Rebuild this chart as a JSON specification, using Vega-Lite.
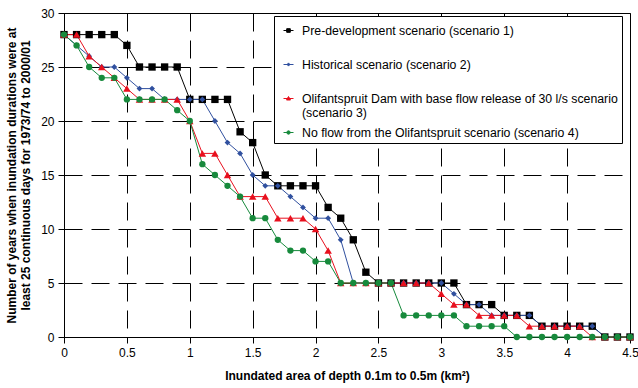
{
  "$schema": "https://vega.github.io/schema/vega-lite/v6.json",
  "width": 566,
  "height": 324,
  "autosize": {"type": "none"},
  "padding": {"left": 64, "top": 13, "right": 8, "bottom": 51},
  "background": "white",
  "config": {
    "font": "Liberation Sans",
    "view": {"stroke": "#000", "strokeWidth": 1},
    "axis": {
      "domainColor": "#000",
      "tickColor": "#000",
      "tickSize": 6,
      "labelColor": "#000",
      "labelFontSize": 12,
      "labelFont": "Liberation Sans",
      "titleFont": "Liberation Sans",
      "titleFontSize": 12,
      "titleFontWeight": "bold",
      "titleColor": "#000",
      "gridColor": "#000",
      "gridOpacity": 1,
      "gridDash": [18, 9],
      "gridWidth": 1
    },
    "legend": {
      "orient": "none",
      "legendX": 210,
      "legendY": 3,
      "strokeColor": "#000",
      "fillColor": "#fff",
      "padding": 4,
      "labelFont": "Liberation Sans",
      "labelFontSize": 12.3,
      "labelColor": "#000",
      "labelLimit": 400,
      "labelOffset": 3,
      "symbolSize": 400,
      "symbolStrokeWidth": 1,
      "symbolOpacity": 1,
      "gridAlign": "all",
      "rowPadding": 2
    }
  },
  "data": {"values": [
    {"s":"S1","x":0,"y":28},{"s":"S1","x":0.1,"y":28},{"s":"S1","x":0.2,"y":28},{"s":"S1","x":0.3,"y":28},{"s":"S1","x":0.4,"y":28},{"s":"S1","x":0.5,"y":27},{"s":"S1","x":0.6,"y":25},{"s":"S1","x":0.7,"y":25},{"s":"S1","x":0.8,"y":25},{"s":"S1","x":0.9,"y":25},
    {"s":"S1","x":1,"y":22},{"s":"S1","x":1.1,"y":22},{"s":"S1","x":1.2,"y":22},{"s":"S1","x":1.3,"y":22},{"s":"S1","x":1.4,"y":19},{"s":"S1","x":1.5,"y":18},{"s":"S1","x":1.6,"y":15},{"s":"S1","x":1.7,"y":14},{"s":"S1","x":1.8,"y":14},{"s":"S1","x":1.9,"y":14},
    {"s":"S1","x":2,"y":14},{"s":"S1","x":2.1,"y":12},{"s":"S1","x":2.2,"y":11},{"s":"S1","x":2.3,"y":9},{"s":"S1","x":2.4,"y":6},{"s":"S1","x":2.5,"y":5},{"s":"S1","x":2.6,"y":5},{"s":"S1","x":2.7,"y":5},{"s":"S1","x":2.8,"y":5},{"s":"S1","x":2.9,"y":5},
    {"s":"S1","x":3,"y":5},{"s":"S1","x":3.1,"y":5},{"s":"S1","x":3.2,"y":3},{"s":"S1","x":3.3,"y":3},{"s":"S1","x":3.4,"y":3},{"s":"S1","x":3.5,"y":2},{"s":"S1","x":3.6,"y":2},{"s":"S1","x":3.7,"y":2},{"s":"S1","x":3.8,"y":1},{"s":"S1","x":3.9,"y":1},
    {"s":"S1","x":4,"y":1},{"s":"S1","x":4.1,"y":1},{"s":"S1","x":4.2,"y":1},{"s":"S1","x":4.3,"y":0},{"s":"S1","x":4.4,"y":0},{"s":"S1","x":4.5,"y":0},

    {"s":"S2","x":0,"y":28},{"s":"S2","x":0.1,"y":27},{"s":"S2","x":0.2,"y":26},{"s":"S2","x":0.3,"y":25},{"s":"S2","x":0.4,"y":25},{"s":"S2","x":0.5,"y":24},{"s":"S2","x":0.6,"y":23},{"s":"S2","x":0.7,"y":23},{"s":"S2","x":0.8,"y":22},{"s":"S2","x":0.9,"y":22},
    {"s":"S2","x":1,"y":22},{"s":"S2","x":1.1,"y":22},{"s":"S2","x":1.2,"y":20},{"s":"S2","x":1.3,"y":18},{"s":"S2","x":1.4,"y":17},{"s":"S2","x":1.5,"y":15},{"s":"S2","x":1.6,"y":14},{"s":"S2","x":1.7,"y":14},{"s":"S2","x":1.8,"y":13},{"s":"S2","x":1.9,"y":12},
    {"s":"S2","x":2,"y":11},{"s":"S2","x":2.1,"y":11},{"s":"S2","x":2.2,"y":9},{"s":"S2","x":2.3,"y":5},{"s":"S2","x":2.4,"y":5},{"s":"S2","x":2.5,"y":5},{"s":"S2","x":2.6,"y":5},{"s":"S2","x":2.7,"y":5},{"s":"S2","x":2.8,"y":5},{"s":"S2","x":2.9,"y":5},
    {"s":"S2","x":3,"y":5},{"s":"S2","x":3.1,"y":4},{"s":"S2","x":3.2,"y":3},{"s":"S2","x":3.3,"y":3},{"s":"S2","x":3.4,"y":2},{"s":"S2","x":3.5,"y":2},{"s":"S2","x":3.6,"y":2},{"s":"S2","x":3.7,"y":2},{"s":"S2","x":3.8,"y":1},{"s":"S2","x":3.9,"y":1},
    {"s":"S2","x":4,"y":1},{"s":"S2","x":4.1,"y":1},{"s":"S2","x":4.2,"y":1},{"s":"S2","x":4.3,"y":0},{"s":"S2","x":4.4,"y":0},{"s":"S2","x":4.5,"y":0},

    {"s":"S3","x":0,"y":28},{"s":"S3","x":0.1,"y":28},{"s":"S3","x":0.2,"y":26},{"s":"S3","x":0.3,"y":25},{"s":"S3","x":0.4,"y":24},{"s":"S3","x":0.5,"y":23},{"s":"S3","x":0.6,"y":22},{"s":"S3","x":0.7,"y":22},{"s":"S3","x":0.8,"y":22},{"s":"S3","x":0.9,"y":22},
    {"s":"S3","x":1,"y":20},{"s":"S3","x":1.1,"y":17},{"s":"S3","x":1.2,"y":17},{"s":"S3","x":1.3,"y":15},{"s":"S3","x":1.4,"y":13},{"s":"S3","x":1.5,"y":13},{"s":"S3","x":1.6,"y":13},{"s":"S3","x":1.7,"y":11},{"s":"S3","x":1.8,"y":11},{"s":"S3","x":1.9,"y":11},
    {"s":"S3","x":2,"y":10},{"s":"S3","x":2.1,"y":8},{"s":"S3","x":2.2,"y":5},{"s":"S3","x":2.3,"y":5},{"s":"S3","x":2.4,"y":5},{"s":"S3","x":2.5,"y":5},{"s":"S3","x":2.6,"y":5},{"s":"S3","x":2.7,"y":5},{"s":"S3","x":2.8,"y":5},{"s":"S3","x":2.9,"y":5},
    {"s":"S3","x":3,"y":4},{"s":"S3","x":3.1,"y":3},{"s":"S3","x":3.2,"y":3},{"s":"S3","x":3.3,"y":2},{"s":"S3","x":3.4,"y":2},{"s":"S3","x":3.5,"y":2},{"s":"S3","x":3.6,"y":2},{"s":"S3","x":3.7,"y":1},{"s":"S3","x":3.8,"y":1},{"s":"S3","x":3.9,"y":1},
    {"s":"S3","x":4,"y":1},{"s":"S3","x":4.1,"y":1},{"s":"S3","x":4.2,"y":0},{"s":"S3","x":4.3,"y":0},{"s":"S3","x":4.4,"y":0},{"s":"S3","x":4.5,"y":0},

    {"s":"S4","x":0,"y":28},{"s":"S4","x":0.1,"y":27},{"s":"S4","x":0.2,"y":25},{"s":"S4","x":0.3,"y":24},{"s":"S4","x":0.4,"y":24},{"s":"S4","x":0.5,"y":22},{"s":"S4","x":0.6,"y":22},{"s":"S4","x":0.7,"y":22},{"s":"S4","x":0.8,"y":22},{"s":"S4","x":0.9,"y":21},
    {"s":"S4","x":1,"y":20},{"s":"S4","x":1.1,"y":16},{"s":"S4","x":1.2,"y":15},{"s":"S4","x":1.3,"y":14},{"s":"S4","x":1.4,"y":13},{"s":"S4","x":1.5,"y":11},{"s":"S4","x":1.6,"y":11},{"s":"S4","x":1.7,"y":9},{"s":"S4","x":1.8,"y":8},{"s":"S4","x":1.9,"y":8},
    {"s":"S4","x":2,"y":7},{"s":"S4","x":2.1,"y":7},{"s":"S4","x":2.2,"y":5},{"s":"S4","x":2.3,"y":5},{"s":"S4","x":2.4,"y":5},{"s":"S4","x":2.5,"y":5},{"s":"S4","x":2.6,"y":5},{"s":"S4","x":2.7,"y":2},{"s":"S4","x":2.8,"y":2},{"s":"S4","x":2.9,"y":2},
    {"s":"S4","x":3,"y":2},{"s":"S4","x":3.1,"y":2},{"s":"S4","x":3.2,"y":1},{"s":"S4","x":3.3,"y":1},{"s":"S4","x":3.4,"y":1},{"s":"S4","x":3.5,"y":1},{"s":"S4","x":3.6,"y":0},{"s":"S4","x":3.7,"y":0},{"s":"S4","x":3.8,"y":0},{"s":"S4","x":3.9,"y":0},
    {"s":"S4","x":4,"y":0},{"s":"S4","x":4.1,"y":0},{"s":"S4","x":4.2,"y":0},{"s":"S4","x":4.3,"y":0},{"s":"S4","x":4.4,"y":0},{"s":"S4","x":4.5,"y":0}
  ]},
  "encoding": {
    "x": {
      "field": "x", "type": "quantitative",
      "scale": {"domain": [0, 4.5], "nice": false, "zero": false},
      "axis": {
        "values": [0, 0.5, 1, 1.5, 2, 2.5, 3, 3.5, 4, 4.5],
        "format": "~g",
        "title": "Inundated area of depth 0.1m to 0.5m (km²)",
        "titlePadding": 12,
        "labelPadding": 4,
        "labelFlush": false
      }
    },
    "y": {
      "field": "y", "type": "quantitative",
      "scale": {"domain": [0, 30], "nice": false},
      "axis": {
        "values": [0, 5, 10, 15, 20, 25, 30],
        "title": ["Number of years when inundation durations were at", "least 25 continuous days for 1973/74 to 2000/01"],
        "titlePadding": 8,
        "labelPadding": 4,
        "labelFlush": false
      }
    },
    "color": {
      "field": "s", "type": "nominal",
      "scale": {"domain": ["S1", "S2", "S3", "S4"], "range": ["#000000", "#30509f", "#e8101e", "#178a3c"]},
      "legend": {
        "title": null,
        "labelExpr": "datum.value == 'S1' ? 'Pre-development scenario (scenario 1)' : datum.value == 'S2' ? 'Historical scenario (scenario 2)' : datum.value == 'S3' ? ['Olifantspruit Dam with base flow release of 30 l/s scenario', '(scenario 3)'] : 'No flow from the Olifantspruit scenario (scenario 4)'"
      }
    }
  },
  "layer": [
    {
      "transform": [{"filter": "false"}],
      "mark": {"type": "point", "filled": true, "opacity": 1, "size": 400, "strokeWidth": 1},
      "encoding": {
        "stroke": {
          "field": "s", "type": "nominal",
          "scale": {"domain": ["S1", "S2", "S3", "S4"], "range": ["#000000", "#30509f", "#e8101e", "#178a3c"]},
          "legend": {
            "title": null,
            "labelExpr": "datum.value == 'S1' ? 'Pre-development scenario (scenario 1)' : datum.value == 'S2' ? 'Historical scenario (scenario 2)' : datum.value == 'S3' ? ['Olifantspruit Dam with base flow release of 30 l/s scenario', '(scenario 3)'] : 'No flow from the Olifantspruit scenario (scenario 4)'"
          }
        },
        "shape": {
          "field": "s", "type": "nominal",
          "scale": {"domain": ["S1", "S2", "S3", "S4"], "range": [
            "M-0.5,0H0.5M-0.18,-0.18H0.18V0.18H-0.18Z",
            "M-0.5,0H0.5M0,-0.16L0.13,0L0,0.16L-0.13,0Z",
            "M-0.5,0H0.5M0,-0.2L0.2,0.15H-0.2Z",
            "M-0.5,0H0.5M-0.17,0A0.17,0.17 0 1,0 0.17,0A0.17,0.17 0 1,0 -0.17,0Z"
          ]},
          "legend": {
            "title": null,
            "labelExpr": "datum.value == 'S1' ? 'Pre-development scenario (scenario 1)' : datum.value == 'S2' ? 'Historical scenario (scenario 2)' : datum.value == 'S3' ? ['Olifantspruit Dam with base flow release of 30 l/s scenario', '(scenario 3)'] : 'No flow from the Olifantspruit scenario (scenario 4)'"
          }
        }
      }
    },
    {"mark": {"type": "line", "strokeWidth": 1}},
    {
      "transform": [{"filter": "datum.s == 'S1'"}],
      "mark": {"type": "point", "filled": true, "opacity": 1, "shape": "square", "size": 54}
    },
    {
      "transform": [{"filter": "datum.s == 'S2'"}],
      "mark": {"type": "point", "filled": true, "opacity": 1, "shape": "diamond", "size": 34}
    },
    {
      "transform": [{"filter": "datum.s == 'S3'"}],
      "mark": {"type": "point", "filled": true, "opacity": 1, "shape": "triangle-up", "size": 56}
    },
    {
      "transform": [{"filter": "datum.s == 'S4'"}],
      "mark": {"type": "point", "filled": true, "opacity": 1, "shape": "circle", "size": 40}
    }
  ]
}
